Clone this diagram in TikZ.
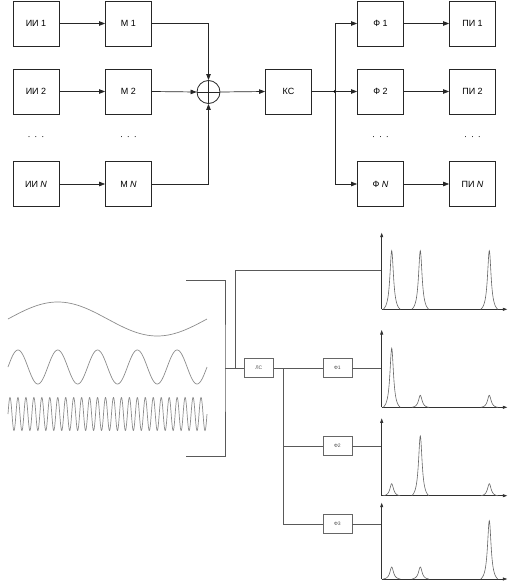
\documentclass[tikz,border=0pt]{standalone}
\usepackage{fontspec}
\setmainfont{Liberation Sans}
\usetikzlibrary{arrows.meta,calc}
\begin{document}
\begin{tikzpicture}[x=1pt,y=-1pt,
  box/.style={draw=black!85, line width=0.8pt, minimum width=46pt, minimum height=45pt, inner sep=0pt, font=\fontsize{9}{10}\selectfont},
  sbox/.style={draw=black!60, line width=0.6pt, minimum width=29pt, minimum height=19.5pt, inner sep=0pt, font=\fontsize{5}{6}\selectfont, text=black!70},
  arr/.style={draw=black!85, line width=0.7pt, -{Triangle[length=6pt,width=4.5pt]}},
  conn/.style={draw=black!65, line width=0.7pt},
  axis/.style={draw=black!80, line width=0.7pt, -{Triangle[length=4.5pt,width=3pt]}},
  wave/.style={draw=black!45, line width=0.7pt},
  peak/.style={draw=black!60, line width=0.6pt},
  dots/.style={font=\fontsize{9}{10}\selectfont}
]
\useasboundingbox (0,0) rectangle (509,581);

% ---------- top block diagram ----------
\node[box] (ii1) at (36,23.5) {ИИ 1};
\node[box] (ii2) at (36,91.5) {ИИ 2};
\node[box] (iiN) at (36,184) {ИИ \textit{N}};
\node[box] (m1) at (128.5,23.5) {М 1};
\node[box] (m2) at (128.5,91.5) {М 2};
\node[box] (mN) at (128.5,184) {М \textit{N}};
\node[dots] (d1) at (36,138) {·\hspace{4pt}·\hspace{4pt}·};
\node[dots] (d2) at (128.5,138) {·\hspace{4pt}·\hspace{4pt}·};
\node[draw=black!85, line width=0.8pt, circle, minimum size=23pt, inner sep=0pt] (sum) at (208.5,92) {};
\draw[draw=black!85, line width=0.7pt] (sum.north) -- (sum.south) (sum.west) -- (sum.east);
\node[box] (ks) at (288.5,91.5) {КС};
\coordinate (j) at (335,91.5);
\node[box] (f1) at (380.5,23.5) {Ф 1};
\node[box] (f2) at (380.5,91.5) {Ф 2};
\node[box] (fN) at (380.5,184) {Ф \textit{N}};
\node[box] (p1) at (472.5,23.5) {ПИ 1};
\node[box] (p2) at (472.5,91.5) {ПИ 2};
\node[box] (pN) at (472.5,184) {ПИ \textit{N}};
\node[dots] (d3) at (380.5,138) {·\hspace{4pt}·\hspace{4pt}·};
\node[dots] (d4) at (472.5,138) {·\hspace{4pt}·\hspace{4pt}·};

\draw[arr] (ii1) -- (m1);
\draw[arr] (ii2) -- (m2);
\draw[arr] (iiN) -- (mN);
\draw[arr] (m1.east) -| (sum.north);
\draw[arr] (m2.east) -- (sum.west);
\draw[arr] (mN.east) -| (sum.south);
\draw[arr] (sum.east) -- (ks.west);
\draw[draw=black!85, line width=0.7pt] (ks.east) -- (j);
\fill[black] (j) circle (1.6pt);
\draw[arr] (j) |- (f1.west);
\draw[arr] (j) -- (f2.west);
\draw[arr] (j) |- (fN.west);
\draw[arr] (f1) -- (p1);
\draw[arr] (f2) -- (p2);
\draw[arr] (fN) -- (pN);

% ---------- bottom: signals ----------
\draw[wave] plot[domain=0:199, samples=120] ({8+\x},{319-17*sin(1.80905*\x)});
\draw[wave] plot[domain=0:199, samples=250] ({8+\x},{367-17*sin(9.04523*\x)});
\draw[wave] plot[domain=0:199, samples=800] ({8+\x},{414-16.5*sin(45.2261*\x)});

% bracket
\coordinate (bt) at (186,280);
\coordinate (bb) at (186,456);
\coordinate (bm) at (225,368);
\draw[conn] (bt) -| (bm) |- (bb);

% boxes
\node[sbox] (ls) at (258.8,368) {ЛС};
\node[sbox] (fa) at (337.3,368) {Ф1};
\node[sbox] (fb) at (337.3,446) {Ф2};
\node[sbox] (fc) at (337.3,524) {Ф3};

% axes origins
\coordinate (o1) at (381.7,309.3);
\coordinate (o2) at (381.7,407.3);
\coordinate (o3) at (381.7,495.7);
\coordinate (o4) at (381.7,579);
\coordinate (a1) at (381.7,270.7);
\coordinate (a2) at (381.7,368);
\coordinate (a3) at (381.7,446);
\coordinate (a4) at (381.7,524);
\coordinate (s1) at (235,368);
\coordinate (s2) at (283.3,368);
\coordinate (s3) at (283.3,446);

\draw[conn] (bm) -- (ls.west);
\draw[conn] (s1) |- (a1);
\draw[conn] (ls.east) -- (fa.west);
\draw[conn] (fa.east) -- (a2);
\draw[conn] (s2) |- (fc.west);
\draw[conn] (s3) -- (fb.west);
\draw[conn] (fb.east) -- (a3);
\draw[conn] (fc.east) -- (a4);

% axes
\foreach \o/\t in {o1/232.7,o2/330,o3/418.3,o4/502.7}{
  \draw[axis] (\o) -- (\o |- 0,\t);
  \draw[axis] (\o) -- ++(125.6,0);
}

% peaks (truncated Lorentzian)
\newcommand{\pk}[3]{\draw[peak] plot[domain=-8.5:8.5, samples=61] ({#1+\x},{#2-#3*(1/(1+(\x/2.2)*(\x/2.2))-0.0628)/0.9372});}
\pk{391.7}{309.3}{58.6}\pk{420.3}{309.3}{58.6}\pk{489.3}{309.3}{58.6}
\pk{391.7}{407.3}{59}\pk{420.3}{407.3}{12}\pk{489.3}{407.3}{12}
\pk{391.7}{495.7}{12}\pk{420.3}{495.7}{59.7}\pk{489.3}{495.7}{12}
\pk{391.7}{579}{12}\pk{420.3}{579}{12}\pk{489.3}{579}{58.3}
\end{tikzpicture}
\end{document}
